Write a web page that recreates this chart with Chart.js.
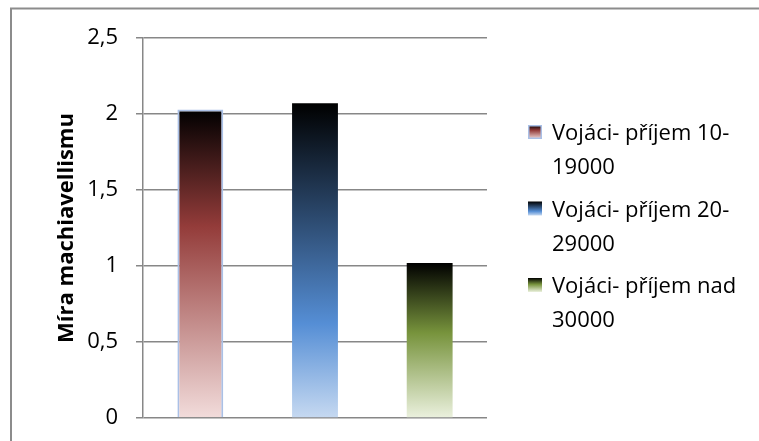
<!doctype html>
<html>
<head>
    <meta charset="utf-8">
    <title>Míra machiavellismu</title>
    <script src="https://cdn.jsdelivr.net/npm/chart.js"></script>
    <style>
        html, body { margin: 0; padding: 0; background: #fff; }
        #wrap { width: 759px; height: 441px; }
    </style>
</head>
<body>
<div id="wrap"><canvas id="myChart"></canvas></div>

<script>
    // data
    var categories = ['', '', ''];
    var seriesNames = ['Vojáci- příjem 10-19000', 'Vojáci- příjem 20-29000', 'Vojáci- příjem nad 30000'];
    var legendLines = [['Vojáci- příjem 10-', '19000'], ['Vojáci- příjem 20-', '29000'], ['Vojáci- příjem nad', '30000']];
    var values = [2.03, 2.07, 1.02];
    var yTicks = [0, 0.5, 1, 1.5, 2, 2.5];

    // gradient stops per series (top -> bottom of bar)
    var gradStops = [
        [[0, '#000000'], [0.38, '#943c3a'], [1, '#f2dcdb']],
        [[0, '#000000'], [0.7, '#558ed5'], [1, '#c6d9f1']],
        [[0, '#000000'], [0.45, '#77933c'], [1, '#ebf1de']]
    ];
    var FONT = '"Open Sans", sans-serif';

    function makeGrad(c, y0, y1, stops) {
        var g = c.createLinearGradient(0, y0, 0, y1);
        stops.forEach(function (s) { g.addColorStop(s[0], s[1]); });
        return g;
    }

    var datasets = seriesNames.map(function (name, i) {
        var d = categories.map(function (c, j) { return j === i ? values[i] : null; });
        return {
            label: name,
            data: d,
            backgroundColor: function (ctx) {
                var chart = ctx.chart;
                if (!chart.chartArea || ctx.raw == null) return '#000';
                var yTop = chart.scales.y.getPixelForValue(ctx.raw);
                var yBot = chart.scales.y.getPixelForValue(0);
                return makeGrad(chart.ctx, yTop, yBot, gradStops[i]);
            },
            borderColor: i === 0 ? '#aac0e6' : 'rgba(0,0,0,0)',
            borderWidth: i === 0 ? 2 : 0,
            barPercentage: 0.4,
            categoryPercentage: 1,
            skipNull: true
        };
    });

    var frame = {
        id: 'frame',
        beforeDraw: function (chart) {
            var c = chart.ctx;
            c.save();
            c.strokeStyle = '#8c8c8c';
            c.lineWidth = 2;
            c.beginPath();
            c.moveTo(11, 441);
            c.lineTo(11, 8.5);
            c.lineTo(759, 8.5);
            c.stroke();
            c.restore();
        }
    };

    var sideLegend = {
        id: 'sideLegend',
        afterDraw: function (chart) {
            var c = chart.ctx;
            var boxX = 528, textX = 552, firstBase = 140, lineH = 34, itemH = 76.5, box = 14;
            c.save();
            c.font = '22px ' + FONT;
            c.textBaseline = 'alphabetic';
            c.textAlign = 'left';
            legendLines.forEach(function (lines, i) {
                var base = firstBase + i * itemH;
                var by = base - 15;
                c.fillStyle = makeGrad(c, by, by + box, gradStops[i]);
                c.fillRect(boxX, by, box, box);
                if (i === 0) {
                    c.strokeStyle = '#aac0e6';
                    c.lineWidth = 1.5;
                    c.strokeRect(boxX + 0.75, by + 0.75, box - 1.5, box - 1.5);
                }
                c.fillStyle = '#000';
                lines.forEach(function (t, k) {
                    c.fillText(t, textX, base + k * lineH);
                });
            });
            c.restore();
        }
    };

    new Chart(document.getElementById('myChart'), {
        type: 'bar',
        data: { labels: categories, datasets: datasets },
        plugins: [frame, sideLegend],
        options: {
            responsive: true,
            maintainAspectRatio: false,
            animation: false,
            layout: { padding: { left: 54, top: 38, right: 272, bottom: 23 } },
            plugins: {
                legend: { display: false },
                tooltip: { enabled: false }
            },
            scales: {
                x: {
                    display: false
                },
                y: {
                    min: 0,
                    max: 2.5,
                    afterBuildTicks: function (scale) {
                        scale.ticks = yTicks.map(function (v) { return { value: v }; });
                    },
                    afterFit: function (scale) {
                        scale.width = 89;
                        // label padding is horizontal only here
                        scale.paddingTop = 13;
                        scale.paddingBottom = 13;
                    },
                    ticks: {
                        color: '#000',
                        padding: 18,
                        font: { family: FONT, size: 22 },
                        callback: function (v) { return String(v).replace('.', ','); }
                    },
                    grid: { color: '#878787', lineWidth: 1.5, tickLength: 7 },
                    border: { display: true, color: '#878787', width: 1.5 },
                    title: {
                        display: true,
                        text: 'Míra machiavellismu',
                        color: '#000',
                        font: { family: FONT, size: 22, weight: 'bold' },
                        padding: 0
                    }
                }
            }
        }
    });
</script>
</body>
</html>
